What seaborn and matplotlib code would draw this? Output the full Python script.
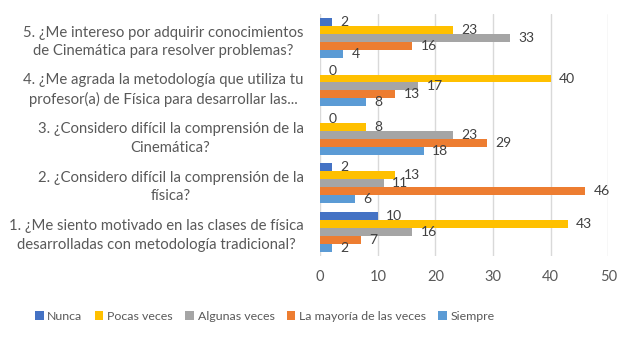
import matplotlib
matplotlib.use("Agg")
import matplotlib.pyplot as plt
import matplotlib.transforms as mtransforms
import seaborn as sns
import pandas as pd

categories = [
    "5. ¿Me intereso por adquirir conocimientos\nde Cinemática para resolver problemas?",
    "4. ¿Me agrada la metodología que utiliza tu\nprofesor(a) de Física para desarrollar las...",
    "3. ¿Considero difícil la comprensión de la\nCinemática?",
    "2. ¿Considero difícil la comprensión de la\nfísica?",
    "1. ¿Me siento motivado en las clases de física\ndesarrolladas con metodología tradicional?",
]
series_names = ["Nunca", "Pocas veces", "Algunas veces", "La mayoría de las veces", "Siempre"]
nunca = [2, 0, 0, 2, 10]
pocas = [23, 40, 8, 13, 43]
algunas = [33, 17, 23, 11, 16]
mayoria = [16, 13, 29, 46, 7]
siempre = [4, 8, 18, 6, 2]
colors = ["#4472C4", "#FFC000", "#A5A5A5", "#ED7D31", "#5B9BD5"]
x_ticks = [0, 10, 20, 30, 40, 50]

rows = []
for name, vals in zip(series_names, [nunca, pocas, algunas, mayoria, siempre]):
    for c, v in zip(categories, vals):
        rows.append({"Pregunta": c, "Serie": name, "Valor": v})
df = pd.DataFrame(rows)

sns.set_theme(style="white")
plt.rcParams["font.family"] = ["Lato", "DejaVu Sans"]

fig = plt.figure(figsize=(6.43, 3.38), dpi=100)
ax = fig.add_axes([0.498, 0.243, 0.448, 0.716])

sns.barplot(data=df, y="Pregunta", x="Valor", hue="Serie", order=categories,
            hue_order=series_names, palette=colors, orient="h", width=0.82,
            ax=ax, legend=True, saturation=1, edgecolor="none")

shift = mtransforms.ScaledTranslation(0, -2 / 72, fig.dpi_scale_trans)
for cont in ax.containers:
    texts = ax.bar_label(cont, padding=6, fontsize=10, color="#404040")
    for t in texts:
        t.set_transform(t.get_transform() + shift)

ax.set_xlim(0, 50)
ax.set_xticks(x_ticks)
ax.set_xlabel("")
ax.set_ylabel("")
ax.grid(axis="x", color="#D9D9D9", linewidth=1)
ax.set_axisbelow(True)
for s in ax.spines.values():
    s.set_visible(False)
ax.tick_params(axis="x", length=0, labelsize=10.5, labelcolor="#595959", pad=10)
ax.tick_params(axis="y", length=0, labelsize=10.7, labelcolor="#595959", pad=12)
for lbl in ax.get_yticklabels():
    lbl.set_horizontalalignment("right")
    lbl.set_multialignment("center")
    lbl.set_linespacing(1.4)

handles, labels = ax.get_legend_handles_labels()
ax.get_legend().remove()
fig.legend(handles, labels, loc="center", bbox_to_anchor=(0.412, 0.065), ncol=5,
           frameon=False, fontsize=8.9, handlelength=0.7, handleheight=0.7,
           handletextpad=0.3, columnspacing=1.0, labelcolor="#595959")

fig.savefig("out.png", dpi=100)
